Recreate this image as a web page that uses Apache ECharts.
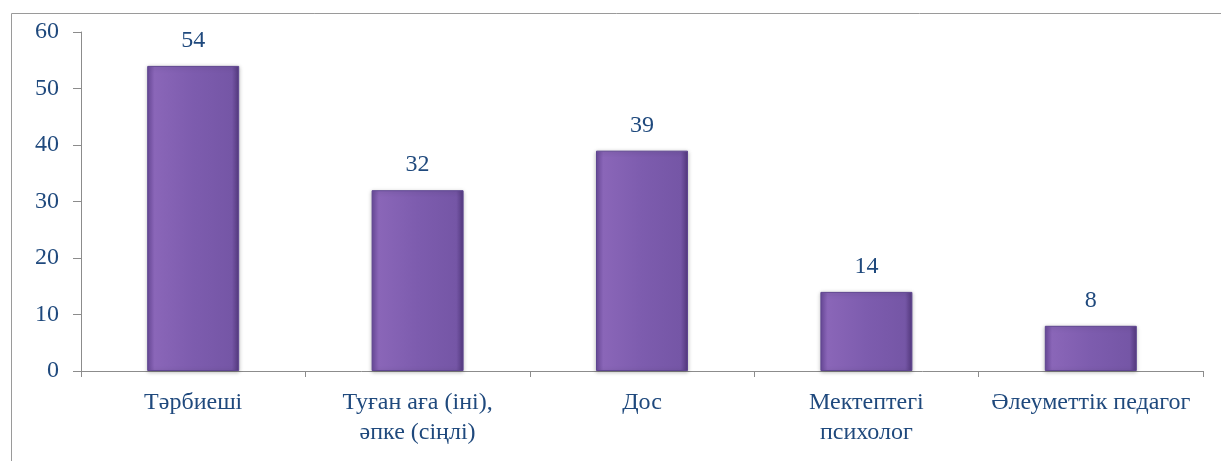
<!DOCTYPE html>
<html>
<head>
    <meta charset="utf-8">
    <script src="https://cdn.jsdelivr.net/npm/echarts@6/dist/echarts.min.js"></script>
</head>
<body>
    <div id="chart"></div>
</body>
<style>
    body {
        margin: 0;
        background: #fff;
    }

    #chart {
        width: 1221px;
        height: 461px;
    }
</style>
<script>
    const categories = ['Тәрбиеші', 'Туған аға (іні),\nәпке (сіңлі)', 'Дос', 'Мектептегі\nпсихолог', 'Әлеуметтік педагог']
    const values = [54, 32, 39, 14, 8]
    const yTicks = { min: 0, max: 60, interval: 10 }

    const textColor = '#1F497D'
    const font = '"Liberation Serif", "Times New Roman", serif'

    const chart = echarts.init(document.getElementById('chart'))

    const option = {
        animation: false,
        graphic: [
            {
                type: 'rect',
                shape: { x: 11.5, y: 13.5, width: 1300, height: 500 },
                style: { fill: 'none', stroke: '#9a9a9a', lineWidth: 1 },
                silent: true
            }
        ],
        grid: {
            left: 81,
            right: 18,
            top: 32,
            bottom: 90
        },
        xAxis: {
            type: 'category',
            data: categories,
            axisLine: { lineStyle: { color: '#8c8c8c', width: 1 } },
            axisTick: { show: true, length: 6, lineStyle: { color: '#8c8c8c' } },
            axisLabel: {
                interval: 0,
                color: textColor,
                fontFamily: font,
                fontSize: 24,
                lineHeight: 30,
                margin: 17
            }
        },
        yAxis: {
            type: 'value',
            min: yTicks.min,
            max: yTicks.max,
            interval: yTicks.interval,
            axisLine: { show: true, lineStyle: { color: '#8c8c8c', width: 1 } },
            axisTick: { show: true, length: 8, lineStyle: { color: '#8c8c8c' } },
            splitLine: { show: false },
            axisLabel: {
                color: textColor,
                fontFamily: font,
                fontSize: 24,
                margin: 22
            }
        },
        series: [
            {
                type: 'bar',
                data: values,
                barWidth: '41%',
                itemStyle: {
                    color: new echarts.graphic.LinearGradient(0, 0, 1, 0, [
                        { offset: 0, color: '#6a4a9a' },
                        { offset: 0.08, color: '#8a66b8' },
                        { offset: 0.5, color: '#7d5cae' },
                        { offset: 0.92, color: '#7556a6' },
                        { offset: 1, color: '#553a80' }
                    ]),
                    borderColor: '#5e4590',
                    borderWidth: 1,
                    shadowColor: 'rgba(0,0,0,0.25)',
                    shadowBlur: 4,
                    shadowOffsetY: 1
                },
                label: {
                    show: true,
                    position: 'top',
                    distance: 13,
                    color: textColor,
                    fontFamily: font,
                    fontSize: 24
                }
            }
        ]
    }

    chart.setOption(option)
</script>
</html>
